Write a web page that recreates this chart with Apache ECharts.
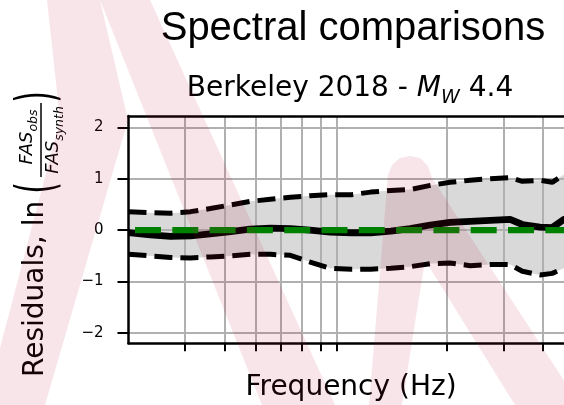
<!DOCTYPE html>
<html>
<head>
<meta charset="utf-8">
<script src="https://cdn.jsdelivr.net/npm/echarts@6/dist/echarts.min.js"></script>
<style>
  html, body { margin: 0; padding: 0; background: #ffffff; }
  #chart { width: 564px; height: 405px; }
</style>
</head>
<body>
<div id="chart"></div>
<script>
// Frequencies (Hz) at which the residuals are sampled
const freqHz = [0.20, 0.234, 0.271, 0.313, 0.361, 0.418, 0.482, 0.557, 0.644, 0.743,
                0.859, 1.0, 1.15, 1.33, 1.53, 1.77, 2.04, 2.36, 2.73, 3.15,
                3.44, 3.91, 4.27, 4.65, 5.04];
// Mean residual ln(FAS_obs / FAS_synth)
const meanResid = [-0.05, -0.09, -0.12, -0.11, -0.07, -0.03, 0.02, 0.04, 0.03, 0.00,
                   -0.04, -0.05, -0.05, -0.02, 0.03, 0.10, 0.15, 0.17, 0.19, 0.21,
                   0.11, 0.06, 0.05, 0.21, 0.25];
// Mean + one standard deviation
const upperResid = [0.36, 0.34, 0.33, 0.36, 0.42, 0.49, 0.56, 0.60, 0.64, 0.67,
                    0.69, 0.69, 0.74, 0.77, 0.79, 0.87, 0.93, 0.97, 1.00, 1.02,
                    0.95, 0.97, 0.93, 1.08, 1.12];
// Mean - one standard deviation
const lowerResid = [-0.47, -0.50, -0.53, -0.54, -0.52, -0.50, -0.47, -0.47, -0.49, -0.62,
                    -0.74, -0.76, -0.76, -0.74, -0.71, -0.65, -0.64, -0.69, -0.67, -0.67,
                    -0.80, -0.87, -0.84, -0.74, -0.70];
// Zero-residual reference line
const zeroLineHz = [0.2, 5.04];
const zeroLineVal = [0, 0];
// Visible frequency extent and grid/tick positions (Hz)
const xRangeHz = [0.2, 4.65];
const xGridHz = [0.3, 0.4, 0.5, 0.6, 0.7, 0.8, 0.9, 2, 3, 4];
const yRange = [-2.2, 2.22];
const yTicks = [-2, -1, 0, 1, 2];

// The frequency axis is logarithmic: positions are log10(Hz) on a value axis
const lg = Math.log10;
const pairs = (xs, ys) => xs.map((x, i) => [lg(x), ys[i]]);

const FONT = '"DejaVu Sans", sans-serif';
const chart = echarts.init(document.getElementById('chart'), null, { renderer: 'canvas' });

// Translucent brush-stroke watermark painted over the figure
const wmFill = 'rgba(190, 20, 60, 0.11)';
const watermark = [
  [[100, 0], [150, 0], [335, 405], [262, 405]],
  [[47, 0], [100, 0], [128, 120], [45, 405], [-15, 405], [60, 120]],
  [[369, 405], [388, 175], [392, 165], [400, 158], [410, 156], [420, 158], [428, 166],
   [432, 178], [580, 405], [515, 405], [425, 260], [402, 405]]
];

const mathRich = {
  f: { fontFamily: FONT, fontSize: 18, lineHeight: 19, fontStyle: 'italic', verticalAlign: 'top', fill: '#000' },
  s: { fontFamily: FONT, fontSize: 12.5, lineHeight: 13, fontStyle: 'italic', verticalAlign: 'top', padding: [9, 0, 0, 0], fill: '#000' }
};
const centered = { align: 'center', verticalAlign: 'middle', textAlign: 'center', textVerticalAlign: 'middle' };

const option = {
  animation: false,
  backgroundColor: '#ffffff',
  grid: {
    left: 128.5, top: 116, right: 0, bottom: 61.7,
    show: false, containLabel: false
  },
  xAxis: [
    {
      type: 'value', min: lg(xRangeHz[0]), max: lg(xRangeHz[1]), z: 3,
      axisLine: { show: true, onZero: false, lineStyle: { color: '#000', width: 2.5 } },
      axisTick: { show: true, interval: 0, customValues: xGridHz.map(lg), length: 8, lineStyle: { color: '#000', width: 2 } },
      axisLabel: { show: false, interval: 0, customValues: xGridHz.map(lg) },
      splitLine: { show: true, interval: 0, lineStyle: { color: '#b0b0b0', width: 2 } },
      minorTick: { show: false }, minorSplitLine: { show: false }
    },
    {
      // top frame line of the plotting area
      type: 'value', position: 'top', min: lg(xRangeHz[0]), max: lg(xRangeHz[1]), z: 3,
      axisLine: { show: true, onZero: false, lineStyle: { color: '#000', width: 2.5 } },
      axisTick: { show: false }, axisLabel: { show: false }, splitLine: { show: false }
    }
  ],
  yAxis: {
    type: 'value', min: yRange[0], max: yRange[1], z: 3,
    axisLine: { show: true, onZero: false, lineStyle: { color: '#000', width: 2.5 } },
    axisTick: { show: true, interval: 0, customValues: yTicks, length: 11, lineStyle: { color: '#000', width: 2 } },
    axisLabel: {
      show: true, interval: 0, customValues: yTicks, margin: 25,
      fontFamily: FONT, fontSize: 15, color: '#000',
      formatter: v => (v < 0 ? '\u2212' + Math.abs(v) : String(v))
    },
    splitLine: { show: true, interval: 0, lineStyle: { color: '#b0b0b0', width: 2 } }
  },
  series: [
    {
      // shaded ±1 sigma band between the lower and upper curves
      type: 'custom', name: 'band', data: [0], clip: true, silent: true, z: 1,
      renderItem: (params, api) => {
        const top = freqHz.map((f, i) => api.coord([lg(f), upperResid[i]]));
        const bot = freqHz.map((f, i) => api.coord([lg(f), lowerResid[i]])).reverse();
        return { type: 'polygon', shape: { points: top.concat(bot) }, style: { fill: '#d9d9d9' } };
      }
    },
    {
      type: 'line', name: 'upper', data: pairs(freqHz, upperResid),
      symbol: 'none', z: 4,
      lineStyle: { color: '#000', width: 5, type: [18, 8] }
    },
    {
      type: 'line', name: 'lower', data: pairs(freqHz, lowerResid),
      symbol: 'none', z: 4,
      lineStyle: { color: '#000', width: 5, type: [18, 8] }
    },
    {
      type: 'line', name: 'mean', data: pairs(freqHz, meanResid),
      symbol: 'none', z: 5,
      lineStyle: { color: '#000', width: 6.8, join: 'round' }
    },
    {
      type: 'line', name: 'zero', data: pairs(zeroLineHz, zeroLineVal),
      symbol: 'none', z: 6,
      lineStyle: { color: '#008000', width: 6.3, type: [26, 11.3], dashOffset: 30.8 }
    }
  ],
  graphic: [
    {
      type: 'text', x: 353, y: 29, z: 10,
      style: Object.assign({ text: 'Spectral comparisons', font: '40px "Liberation Sans", Arial, sans-serif', fill: '#000' }, centered)
    },
    {
      type: 'text', x: 350, y: 89.5, z: 10,
      style: Object.assign({
        text: '{a|Berkeley 2018 - }{m|M}{w|W}{a| 4.4}', fill: '#000',
        rich: {
          a: { fontFamily: FONT, fontSize: 28, lineHeight: 30, verticalAlign: 'top', fill: '#000' },
          m: { fontFamily: FONT, fontSize: 28, lineHeight: 30, fontStyle: 'italic', verticalAlign: 'top', fill: '#000' },
          w: { fontFamily: FONT, fontSize: 19, lineHeight: 21, fontStyle: 'italic', verticalAlign: 'top',
               padding: [14, 0, 0, 0], fill: '#000' }
        }
      }, centered)
    },
    {
      type: 'text', x: 351, y: 388, z: 10,
      style: Object.assign({ text: 'Frequency (Hz)', font: '28px "DejaVu Sans", sans-serif', fill: '#000' }, centered)
    },
    {
      // rotated y-axis title: Residuals, ln(FAS_obs / FAS_synth)
      type: 'group', x: 36, y: 377, rotation: Math.PI / 2, z: 10,
      children: [
        { type: 'text', x: 0, y: 0,
          style: { text: 'Residuals, ln', font: '28px "DejaVu Sans", sans-serif', fill: '#000',
                   align: 'left', verticalAlign: 'middle', textAlign: 'left', textVerticalAlign: 'middle' } },
        { type: 'text', x: 189, y: 4, scaleY: 1.75,
          style: Object.assign({ text: '(', font: '30px "DejaVu Sans", sans-serif', fill: '#000' }, centered) },
        { type: 'text', x: 240, y: -8,
          style: Object.assign({ text: '{f|FAS}{s|obs}', fill: '#000', rich: mathRich }, centered) },
        { type: 'line', shape: { x1: 200, y1: 5, x2: 274, y2: 5 }, style: { stroke: '#000', lineWidth: 1.5 } },
        { type: 'text', x: 237, y: 18,
          style: Object.assign({ text: '{f|FAS}{s|synth}', fill: '#000', rich: mathRich }, centered) },
        { type: 'text', x: 280, y: 4, scaleY: 1.75,
          style: Object.assign({ text: ')', font: '30px "DejaVu Sans", sans-serif', fill: '#000' }, centered) }
      ]
    }
  ].concat(watermark.map(pts => ({
    type: 'polygon', z: 100, silent: true,
    shape: { points: pts }, style: { fill: wmFill }
  })))
};

chart.setOption(option);
</script>
</body>
</html>
